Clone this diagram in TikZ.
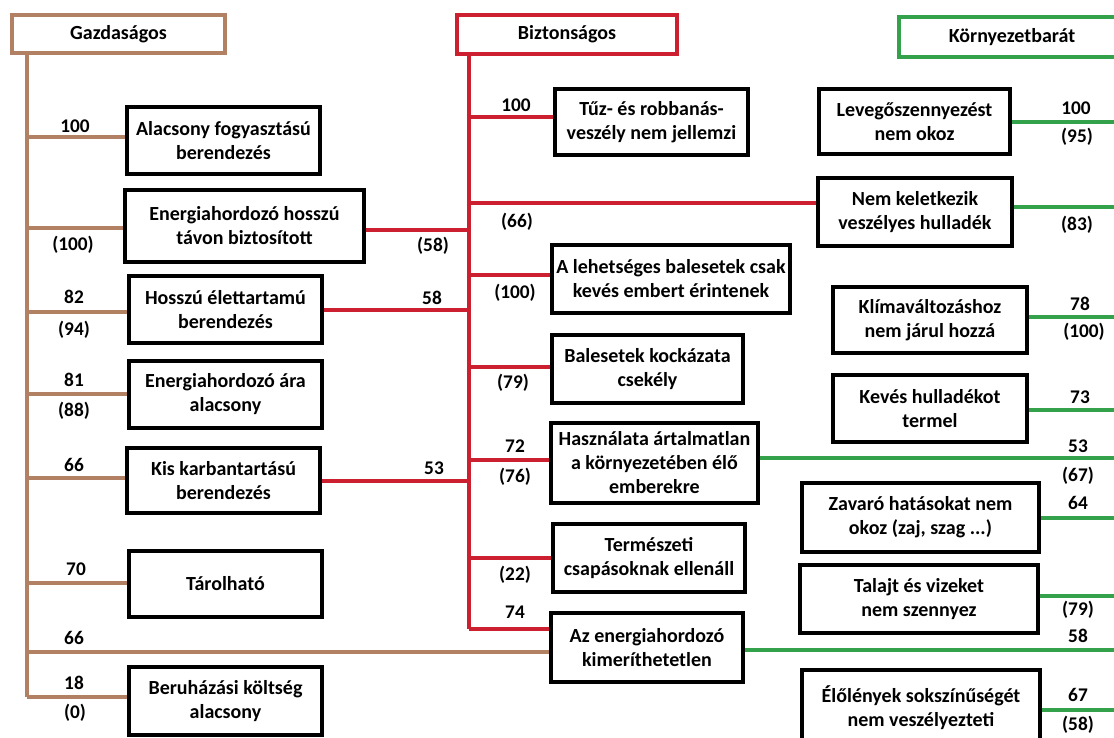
\documentclass[tikz,border=0pt]{standalone}
\usepackage{fontspec}
\setmainfont{Carlito}

\definecolor{gazbrown}{RGB}{178,128,98}
\definecolor{bizred}{RGB}{204,32,48}
\definecolor{korgreen}{RGB}{52,162,74}

\tikzset{
  box/.style={draw=black, line width=2.6pt, fill=white, inner sep=0pt, align=center,
    font=\bfseries\fontsize{15}{18}\selectfont},
  sz/.style 2 args={minimum width=#1*0.75pt, minimum height=#2*0.75pt},
  num/.style={inner sep=0.75pt, font=\bfseries\fontsize{14.5}{18}\selectfont},
  gline/.style={draw=gazbrown, line width=2.5pt},
  rline/.style={draw=bizred, line width=2.5pt},
  kline/.style={draw=korgreen, line width=2.5pt},
}

\begin{document}
\begin{tikzpicture}[x=0.75pt,y=0.75pt,yscale=-1,xscale=1]
\useasboundingbox (0,0) rectangle (1114,738);
\clip (0,0) rectangle (1114,738);

% trunk coordinates
\coordinate (gtop) at (27,53);
\coordinate (g137) at (27,137);
\coordinate (g228) at (27,228);
\coordinate (g312) at (27,312);
\coordinate (g394) at (27,394);
\coordinate (g478) at (27,478);
\coordinate (g583) at (27,583);
\coordinate (g652) at (27,652);
\coordinate (g697) at (27,697);

\coordinate (rtop) at (469,54);
\coordinate (r117) at (469,117);
\coordinate (r203) at (469,203);
\coordinate (r230) at (469,230);
\coordinate (r275) at (469,275);
\coordinate (r310) at (469,310);
\coordinate (r367) at (469,367);
\coordinate (r460) at (469,460);
\coordinate (r481) at (469,481);
\coordinate (r558) at (469,558);
\coordinate (r629) at (469,629);

\coordinate (ktop) at (1124,57);
\coordinate (k122) at (1124,122);
\coordinate (k207) at (1124,207);
\coordinate (k317) at (1124,317);
\coordinate (k410) at (1124,410);
\coordinate (k458) at (1124,458);
\coordinate (k518) at (1124,518);
\coordinate (k596) at (1124,596);
\coordinate (k650) at (1124,650);
\coordinate (k710) at (1124,710);
\coordinate (kbot) at (1124,745);

% Header Nodes
\node[box, draw=gazbrown, sz={213}{38}, text width=185*0.75pt] (gaz) at (118.5,34) {Gazdaságos};
\node[box, draw=bizred, sz={220}{39}, text width=206*0.75pt] (biz) at (567,34.5) {Biztonságos};
\node[box, draw=korgreen, sz={226}{40}] (kor) at (1012,37) {Környezetbarát};

% Text Node -- Gazdaságos
\node[box, sz={193}{67}] (alac) at (223.5,140.5) {Alacsony fogyasztású\\berendezés};
\node[box, sz={239}{72}] (enhossz) at (244.5,226) {Energiahordozó hosszú\\távon biztosított};
\node[box, sz={193}{67}] (hosszu) at (225.5,309.5) {Hosszú élettartamú\\berendezés};
\node[box, sz={193}{67}] (enara) at (225.5,394.5) {Energiahordozó ára\\alacsony};
\node[box, sz={193}{65}] (kisk) at (223.5,480.5) {Kis karbantartású\\berendezés};
\node[box, sz={193}{66}] (tarol) at (225.5,584) {Tárolható};
\node[box, sz={193}{68}] (beruh) at (225.5,701) {Beruházási költség\\alacsony};

% Text Node -- Biztonságos
\node[box, sz={193}{66}] (tuz) at (651.5,122) {Tűz- és robbanás-\\veszély nem jellemzi};
\node[box, sz={238}{68}] (lehet) at (671,279) {A lehetséges balesetek csak\\kevés embert érintenek};
\node[box, sz={191}{68}] (bales) at (647.5,369) {Balesetek kockázata\\csekély};
\node[box, sz={207}{80}] (hasz) at (654.5,463) {Használata ártalmatlan\\a környezetében élő\\emberekre};
\node[box, sz={192}{68}] (term) at (649,558) {Természeti\\csapásoknak ellenáll};
\node[box, sz={192}{69}] (kimer) at (647,647.5) {Az energiahordozó\\kimeríthetetlen};

% Text Node -- Környezetbarát
\node[box, sz={191}{65}] (lev) at (914.5,121.5) {Levegőszennyezést\\nem okoz};
\node[box, sz={194}{68}] (nemkel) at (915,212) {Nem keletkezik\\veszélyes hulladék};
\node[box, sz={194}{66}] (klima) at (930,320) {Klímaváltozáshoz\\nem járul hozzá};
\node[box, sz={194}{67}] (keves) at (930,408.5) {Kevés hulladékot\\termel};
\node[box, sz={237}{69}] (zavaro) at (920.5,517.5) {Zavaró hatásokat nem\\okoz (zaj, szag ...)};
\node[box, sz={238}{68}] (talajt) at (919,599) {Talajt és vizeket\\nem szennyez};
\node[box, sz={238}{76}] (elol) at (921,708) {Élőlények sokszínűségét\\nem veszélyezteti};

% Connection -- brown
\draw[gline] (gaz.south -| gtop) -- (g697);
\draw[gline] (g137) -- (g137 -| alac.west);
\draw[gline] (g228) -- (g228 -| enhossz.west);
\draw[gline] (g312) -- (g312 -| hosszu.west);
\draw[gline] (g394) -- (g394 -| enara.west);
\draw[gline] (g478) -- (g478 -| kisk.west);
\draw[gline] (g583) -- (g583 -| tarol.west);
\draw[gline] (g652) -- (g652 -| kimer.west);
\draw[gline] (g697) -- (g697 -| beruh.west);

% Connection -- red
\draw[rline] (biz.south -| rtop) -- (r629);
\draw[rline] (r117) -- (r117 -| tuz.west);
\draw[rline] (r203) -- (r203 -| nemkel.west);
\draw[rline] (enhossz.east |- r230) -- (r230);
\draw[rline] (r275) -- (r275 -| lehet.west);
\draw[rline] (hosszu.east |- r310) -- (r310);
\draw[rline] (r367) -- (r367 -| bales.west);
\draw[rline] (r460) -- (r460 -| hasz.west);
\draw[rline] (kisk.east |- r481) -- (r481);
\draw[rline] (r558) -- (r558 -| term.west);
\draw[rline] (r629) -- (r629 -| kimer.west);

% Connection -- green
\draw[kline] (kor.south -| ktop) -- (kbot);
\draw[kline] (lev.east |- k122) -- (k122);
\draw[kline] (nemkel.east |- k207) -- (k207);
\draw[kline] (klima.east |- k317) -- (k317);
\draw[kline] (keves.east |- k410) -- (k410);
\draw[kline] (hasz.east |- k458) -- (k458);
\draw[kline] (zavaro.east |- k518) -- (k518);
\draw[kline] (talajt.east |- k596) -- (k596);
\draw[kline] (kimer.east |- k650) -- (k650);
\draw[kline] (elol.east |- k710) -- (k710);

% Value labels -- brown
\node[num] (ng1) at (75,126) {100};
\node[num] (ng2) at (73,245) {(100)};
\node[num] (ng3) at (74,297) {82};
\node[num] (ng4) at (74,330) {(94)};
\node[num] (ng5) at (74,380) {81};
\node[num] (ng6) at (74,411) {(88)};
\node[num] (ng7) at (74,465) {66};
\node[num] (ng8) at (76,569) {70};
\node[num] (ng9) at (74,638) {66};
\node[num] (ng10) at (74,683) {18};
\node[num] (ng11) at (75,713) {(0)};

% Value labels -- red
\node[num] (nr1) at (516,105) {100};
\node[num] (nr2) at (517,222) {(66)};
\node[num] (nr3) at (433,246) {(58)};
\node[num] (nr4) at (515,293) {(100)};
\node[num] (nr5) at (432,298) {58};
\node[num] (nr6) at (513,383) {(79)};
\node[num] (nr7) at (515,446) {72};
\node[num] (nr8) at (515,477) {(76)};
\node[num] (nr9) at (434,468) {53};
\node[num] (nr10) at (515,575) {(22)};
\node[num] (nr11) at (515,612) {74};

% Value labels -- green
\node[num] (nk1) at (1076,108) {100};
\node[num] (nk2) at (1077,137) {(95)};
\node[num] (nk3) at (1077,225) {(83)};
\node[num] (nk4) at (1080,304) {78};
\node[num] (nk5) at (1084,332) {(100)};
\node[num] (nk6) at (1080,397) {73};
\node[num] (nk7) at (1078,446) {53};
\node[num] (nk8) at (1078,476) {(67)};
\node[num] (nk9) at (1078,503) {64};
\node[num] (nk10) at (1078,610) {(79)};
\node[num] (nk11) at (1078,636) {58};
\node[num] (nk12) at (1078,695) {67};
\node[num] (nk13) at (1078,725) {(58)};

\end{tikzpicture}
\end{document}
